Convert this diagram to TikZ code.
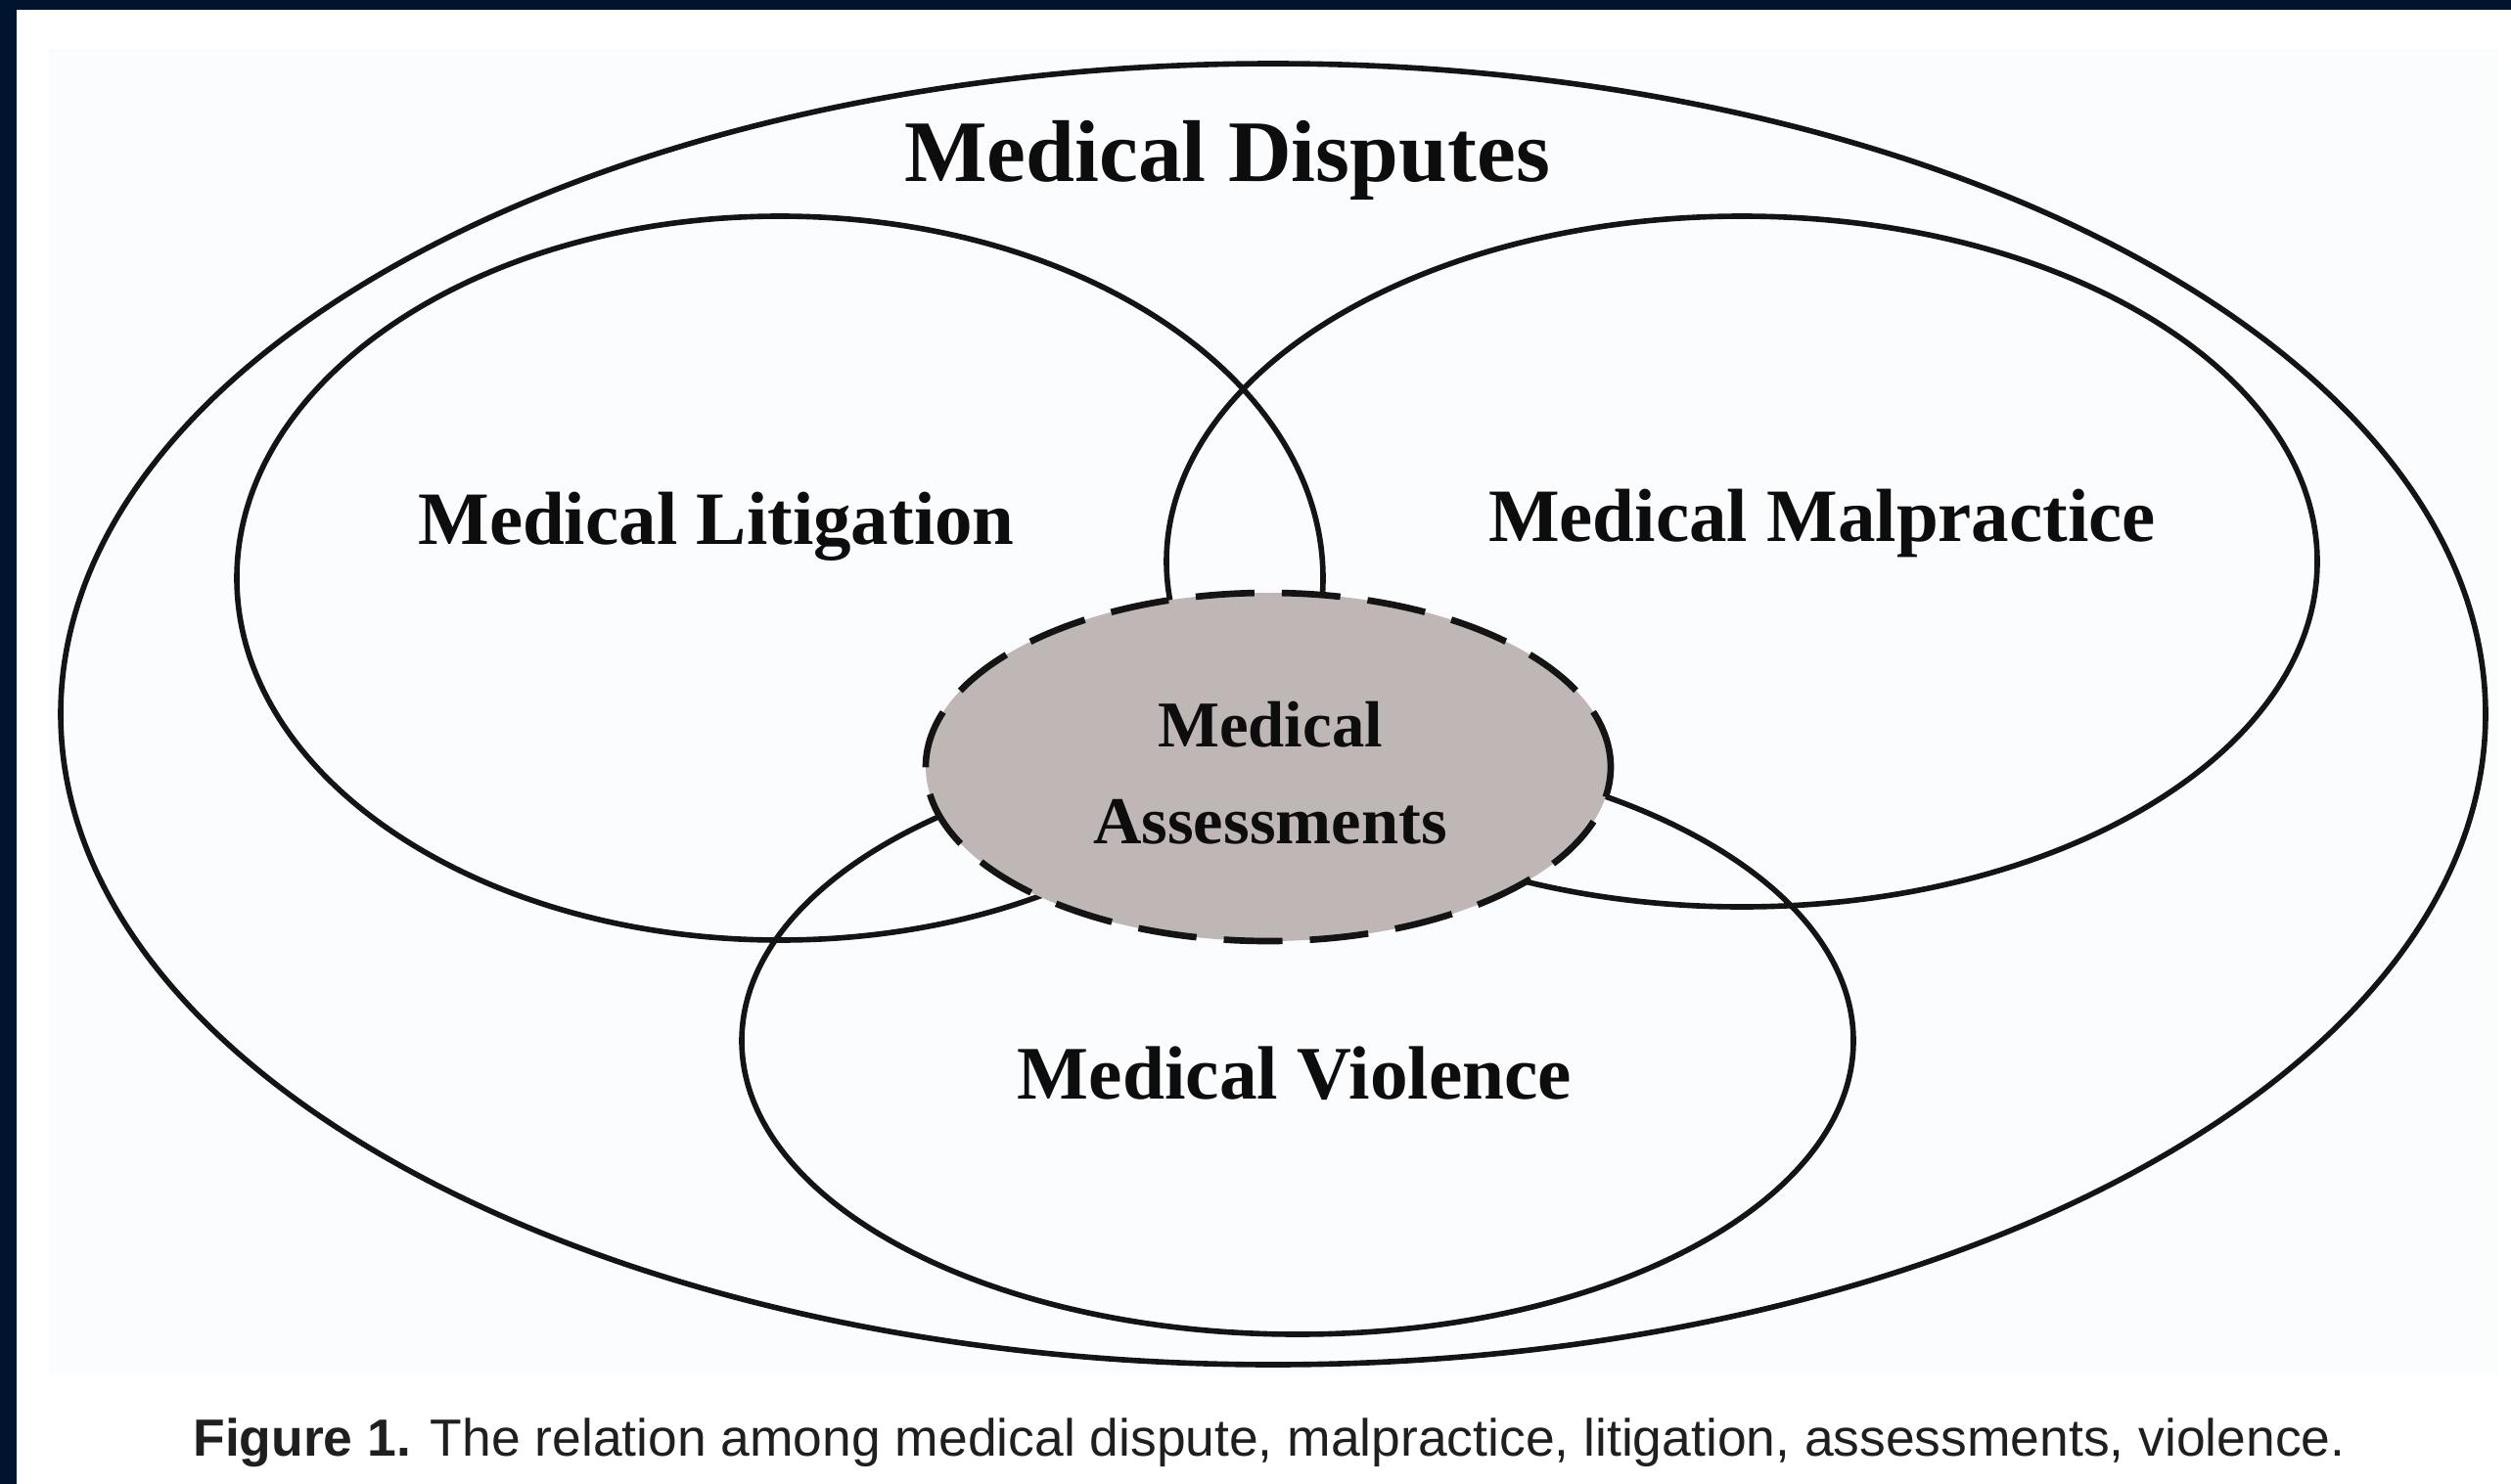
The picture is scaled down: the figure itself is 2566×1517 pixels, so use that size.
\documentclass[tikz,border=0pt]{standalone}
\usepackage{fontspec}
\setmainfont{Liberation Serif}
\setsansfont{Liberation Sans}
\usepackage{xcolor}
\usetikzlibrary{positioning}

\definecolor{navy}{HTML}{00142F}
\definecolor{panel}{HTML}{FBFCFE}
\definecolor{assessgray}{RGB}{190,183,181}

\begin{document}
\begin{tikzpicture}[
  x=0.1mm, y=-0.1mm,
  ring/.style={draw=black!92, line width=1.6pt},
  setlabel/.style={font=\fontsize{21.9}{27}\selectfont\bfseries, text=black!95, inner sep=0pt, anchor=base}
]
  % page, panel and frame
  \fill[white] (0,0) rectangle (2566,1517);
  \fill[panel] (49,50) rectangle (2553,1407);
  \fill[navy] (0,0) rectangle (2566,10);
  \fill[navy] (0,0) rectangle (17,1517);
  \useasboundingbox (0,0) rectangle (2566,1517);

  % the sets
  \draw[ring] (1301,730) ellipse [x radius=123.9mm, y radius=66.5mm];
  \draw[ring] (797,591) ellipse [x radius=55.5mm, y radius=37mm];
  \draw[ring] (1780,574) ellipse [x radius=58.8mm, y radius=35.3mm];
  \draw[ring] (1326,1064) ellipse [x radius=56.8mm, y radius=30mm];
  \draw[ring, line width=1.9pt, dash pattern=on 6mm off 2.8mm, fill=assessgray] (1296,784) ellipse [x radius=35mm, y radius=17.8mm];

  % labels
  \node[setlabel, font=\fontsize{25.5}{30}\selectfont\bfseries] (disputes) at (1254,185) {Medical Disputes};
  \node[setlabel] (litigation) at (732,556) {Medical Litigation};
  \node[setlabel] (malpractice) at (1862,553) {Medical Malpractice};
  \node[setlabel, font=\fontsize{22}{27}\selectfont\bfseries] (violence) at (1323,1123) {Medical Violence};
  \node[setlabel, font=\fontsize{19}{23}\selectfont\bfseries] (assessA) at (1298,763) {Medical};
  \node[setlabel, font=\fontsize{19.5}{23}\selectfont\bfseries] (assessB) at (1298,862) {Assessments};

  % caption
  \node[anchor=base, inner sep=0pt, text=black!88, font=\sffamily\fontsize{15.2}{18}\selectfont] (caption) at (1297,1488)
    {\textbf{Figure 1.} The relation among medical dispute, malpractice, litigation, assessments, violence.};
\end{tikzpicture}
\end{document}
